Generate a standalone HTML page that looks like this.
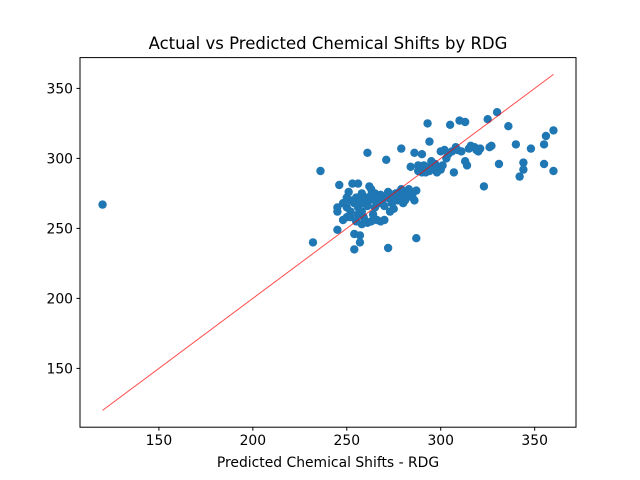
<!DOCTYPE html>
<html><head><meta charset="utf-8"><style>
body{margin:0;background:#fff;}
svg{display:block;font-family:"DejaVu Sans","Liberation Sans",sans-serif;}
</style></head><body>
<svg id="chart" width="640" height="480">
<rect width="640" height="480" fill="#fff"/>
<text x="328" y="49" text-anchor="middle" font-size="16.5">Actual vs Predicted Chemical Shifts by RDG</text>
<g id="plot"></g>
<rect x="80" y="57.6" width="496" height="369.6" fill="none" stroke="#000" stroke-width="1"/>
<text x="328" y="467" text-anchor="middle" font-size="13.9">Predicted Chemical Shifts - RDG</text>
</svg>
<script>
const xTicks=[150,200,250,300,350];
const yTicks=[150,200,250,300,350];
const lineStart=[120,120];
const lineEnd=[360,360];
const ptsX=[120,236,232,245,245,245,246,248,250,250,251,252,253,254,254,256,257,257,260,261,262,263,265,265,266,268,270,271,272,273,275,278,279,280,282,284,285,286,286,287,288,290,292,293,294,295,297,298,300,302,305,307,308,310,313,313,314,315,318,320,323,325,327,330,331,336,340,342,344,344,348,355,355,356,360,360,
248,250,252,254,255,256,257,258,258,259,260,261,262,263,264,265,266,267,268,269,270,271,272,273,274,275,276,277,278,279,280,281,283,284,285,287,288,289,290,291,292,293,294,296,297,299,300,301,303,304,306,309,311,316,319,321,326,252,255,258,261,263,256,259];
const ptsY=[267,291,240,249,265,262,281,256,258,265,276,270,282,246,235,282,240,245,255,304,280,278,270,275,256,255,256,299,236,262,264,276,307,268,273,294,275,304,270,243,291,303,294,325,312,298,292,290,305,306,324,290,308,327,326,298,295,307,308,305,280,328,309,333,296,323,310,287,297,292,307,296,310,316,320,291,
268,272,262,268,272,265,270,275,262,268,272,266,270,274,260,265,272,268,274,270,266,273,276,271,268,272,275,270,272,278,275,270,278,276,272,277,295,292,290,295,290,293,291,294,296,293,292,295,300,303,305,306,305,309,306,307,308,258,255,253,254,255,260,258];
const NS='http://www.w3.org/2000/svg';
const L=80,R=576,T=57.6,B=427.2,XMIN=108,XMAX=372,YMIN=108,YMAX=372;
const sx=v=>L+(v-XMIN)/(XMAX-XMIN)*(R-L);
const sy=v=>B-(v-YMIN)/(YMAX-YMIN)*(B-T);
const svg=document.getElementById('chart');
const g=document.getElementById('plot');
function mk(t,a){const e=document.createElementNS(NS,t);for(const k in a)e.setAttribute(k,a[k]);return e;}
xTicks.forEach(v=>{
 const l=mk('line',{x1:sx(v),x2:sx(v),y1:B,y2:B+3.5,stroke:'#000'});
 
 
 svg.appendChild(l);
 const t=mk('text',{x:sx(v),y:B+18,'text-anchor':'middle','font-size':'13.9'});
 t.textContent=v;
 
 
 svg.appendChild(t);
});
yTicks.forEach(v=>{
 const l=mk('line',{x1:L-3.5,x2:L,y1:sy(v),y2:sy(v),stroke:'#000'});
 
 
 svg.appendChild(l);
 const t=mk('text',{x:L-7,y:sy(v)+5,'text-anchor':'end','font-size':'13.9'});
 t.textContent=v;
 
 
 svg.appendChild(t);
});
ptsX.forEach((x,i)=>{
 const c=mk('circle',{cx:sx(x),cy:sy(ptsY[i]),r:4.2,fill:'#1f77b4'});
 
 
 g.appendChild(c);
});
const ln=mk('line',{x1:sx(lineStart[0]),y1:sy(lineStart[1]),x2:sx(lineEnd[0]),y2:sy(lineEnd[1]),stroke:'red','stroke-opacity':0.7,'stroke-width':1});


g.appendChild(ln);
</script>
</body></html>
